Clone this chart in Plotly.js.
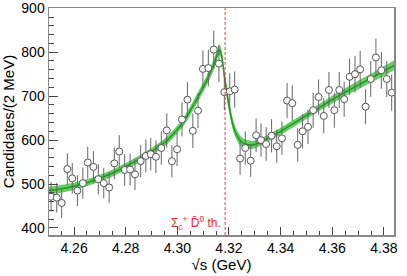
<!DOCTYPE html>
<html>
<head>
<meta charset="utf-8">
<script src="https://cdn.plot.ly/plotly-3.0.1.min.js"></script>
<style>html,body{margin:0;padding:0;background:#fff;}#plot{width:407px;height:276px;}</style>
</head>
<body>
<div id="plot"></div>
<script>
// Data points: sqrt(s) (GeV), candidates per 2 MeV, uncertainty
const dataX = [4.2511,4.2533,4.2552,4.2574,4.2593,4.2613,4.2634,4.2653,4.2675,4.2694,
  4.2715,4.2736,4.2756,4.2775,4.2796,4.2817,4.2836,4.2858,4.2878,4.2897,
  4.2917,4.2938,4.2959,4.2979,4.2999,4.3018,4.3039,4.3060,4.3080,4.3099,
  4.3120,4.3141,4.3161,4.3182,4.3203,4.3222,4.3243,4.3263,4.3284,4.3305,
  4.3324,4.3344,4.3365,4.3385,4.3405,4.3425,4.3445,4.3466,4.3485,4.3506,
  4.3526,4.3547,4.3567,4.3587,4.3608,4.3627,4.3646,4.3667,4.3688,4.3708,
  4.3729,4.3749,4.3769,4.3790,4.3811,4.3830];
const dataY = [471,469,457,534,513,485,502,549,539,511,
  502,492,547,574,532,533,522,552,564,568,
  562,582,622,552,579,647,692,621,667,762,
  764,806,774,709,711,715,558,582,553,611,
  600,591,610,586,604,690,684,589,620,630,
  668,698,655,714,668,714,693,744,750,761,
  676,739,788,759,739,708];
const dataErr = [34,34,34,36,35,35,35,36,36,35,
  35,35,36,37,36,36,36,37,37,37,
  37,38,39,37,38,39,40,39,40,42,
  42,43,42,41,41,41,37,38,37,38,
  38,38,38,38,38,40,40,38,39,39,
  40,40,40,41,40,41,40,41,42,42,
  40,41,43,42,41,41];

// Fit curve with uncertainty band
const fitX = [4.2503,4.255,4.260,4.265,4.270,4.275,4.280,4.285,4.290,4.295,
  4.300,4.303,4.306,4.309,4.311,4.313,4.3145,4.3155,4.3162,4.3168,
  4.3175,4.318,4.319,4.320,4.321,4.322,4.3235,4.325,4.327,4.329,
  4.332,4.335,4.340,4.345,4.350,4.355,4.360,4.365,4.370,4.375,
  4.380,4.3839];
const fitY = [485,489,495,503,513,525,540,556,574,594,
  624,647,677,709,731,756,778,796,806,800,
  780,755,715,678,648,626,606,595,590,589,
  594,604,620,638,656,674,692,709,725,741,
  757,770];
const fitHalf = [9,9,8,8,8,8,8,8,8,9,
  9,10,10,11,11,12,12,12,12,12,
  12,13,13,13,13,12,12,11,10,9,
  8,8,8,8,8,8,9,9,10,10,
  11,11];

const thresholdX = 4.3185;
const xRange = [4.2503, 4.3839];
const yRange = [384, 900.6];
const yTicks = [400,500,600,700,800,900];
const xTicks = [4.26,4.28,4.30,4.32,4.34,4.36,4.38];
const xTickText = ['4.26','4.28','4.30','4.32','4.34','4.36','4.38'];

const fitLo = fitY.map((v,i)=>v-fitHalf[i]);
const fitHi = fitY.map((v,i)=>v+fitHalf[i]);

const traces = [
  {x: fitX, y: fitLo, mode:'lines', line:{width:0, color:'rgba(0,0,0,0)', shape:'spline', smoothing:0.6}, hoverinfo:'skip', showlegend:false},
  {x: fitX, y: fitHi, mode:'lines', fill:'tonexty', fillcolor:'#66cc66', line:{width:0, color:'rgba(0,0,0,0)', shape:'spline', smoothing:0.6}, hoverinfo:'skip', showlegend:false},
  {x: fitX, y: fitY, mode:'lines', line:{width:1.5, color:'#1e9a1e', shape:'spline', smoothing:0.6}, showlegend:false},
  {x: dataX, y: dataY, mode:'markers', showlegend:false,
   error_y:{type:'data', array:dataErr, visible:true, color:'#666666', thickness:1, width:0},
   marker:{symbol:'circle', size:7, color:'#ffffff', line:{color:'#555555', width:1}}}
];

const fam = '"Liberation Sans", Arial, sans-serif';
const axFont = {family:fam, size:14, color:'#000'};
const layout = {
  width:407, height:276,
  margin:{l:49, r:13, t:8, b:41, pad:0},
  paper_bgcolor:'#fff', plot_bgcolor:'#fff',
  font: axFont,
  showlegend:false,
  xaxis:{range:xRange, showgrid:false, zeroline:false, showline:true, mirror:true,
    linecolor:'#888', linewidth:1.5, ticks:'inside', ticklen:8, tickcolor:'#444', tickwidth:1,
    tickvals:xTicks, ticktext:xTickText,
    tickfont:axFont,
    minor:{dtick:0.005, ticks:'inside', ticklen:4, tickcolor:'#444', tick0:4.25},
    title:{text:'√s (GeV)', font:{family:fam, size:15, color:'#000'}, standoff:4}},
  yaxis:{range:yRange, showgrid:false, zeroline:false, showline:true, mirror:true,
    linecolor:'#888', linewidth:1.5, ticks:'inside', ticklen:9, tickcolor:'#444', tickwidth:1,
    tickvals:yTicks, ticktext:yTicks.map(String),
    tickfont:axFont,
    minor:{dtick:20, ticks:'inside', ticklen:5, tickcolor:'#444', tick0:400},
    title:{text:'Candidates/(2 MeV)', font:{family:fam, size:15, color:'#000'}, standoff:5}},
  shapes:[{type:'line', xref:'x', yref:'paper', x0:thresholdX, x1:thresholdX, y0:0, y1:1,
    line:{color:'#ff3333', width:1, dash:'3px,2px'}}],
  annotations:[{xref:'x', yref:'paper', x:thresholdX-0.0007, y:0.005, xanchor:'right', yanchor:'bottom',
    text:'Σ<sub>c</sub><sup>+</sup> D̄<sup>0</sup> th.', showarrow:false,
    font:{family:fam, size:12, color:'#ff2222'}}]
};
Plotly.newPlot('plot', traces, layout, {displayModeBar:false, staticPlot:true});
</script>
</body>
</html>
